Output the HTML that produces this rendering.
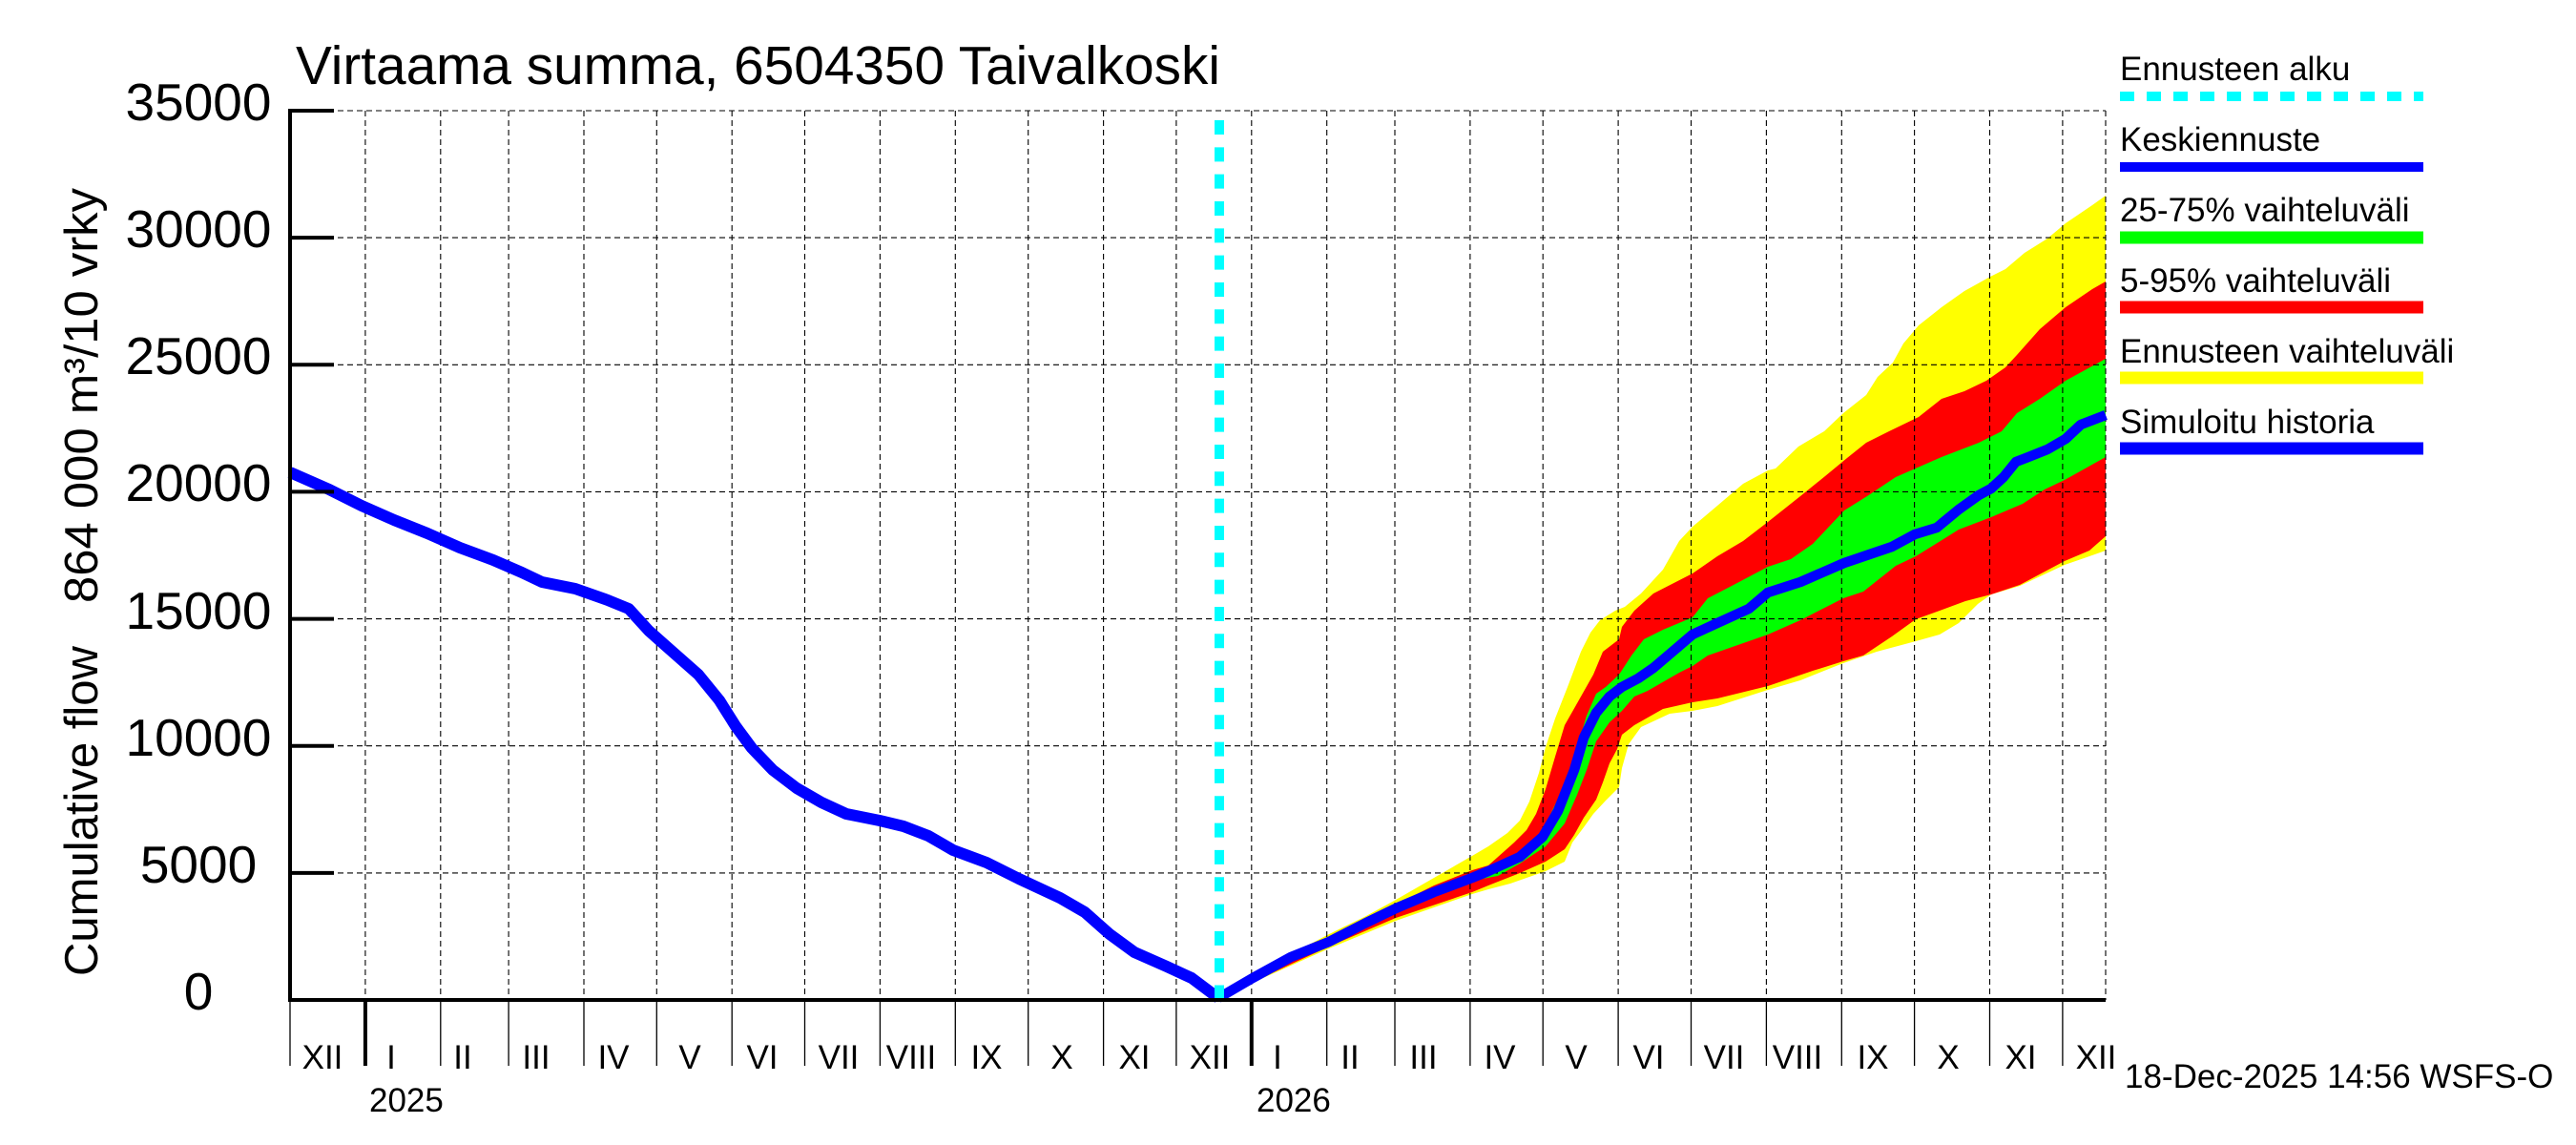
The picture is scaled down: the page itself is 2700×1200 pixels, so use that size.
<!DOCTYPE html>
<html><head><meta charset="utf-8"><style>
html,body{margin:0;padding:0;background:#fff;}
svg{display:block;font-family:"Liberation Sans",Arial,sans-serif;}
</style></head><body>
<svg xmlns="http://www.w3.org/2000/svg" width="2700" height="1200" viewBox="0 0 2700 1200">
<rect width="2700" height="1200" fill="#fff"/>

<!-- yellow band (min-max) -->
<polygon fill="#ffff00" points="1277,1046 1313,1022 1353,1000 1393,979 1430,961 1463,943 1503,920 1543,897 1560,887 1580,873 1593,860 1603,840 1613,810 1620,783 1630,753 1643,720 1657,683 1667,663 1677,650 1693,640 1703,636 1720,622 1743,597 1760,567 1774,552 1800,530 1827,507 1853,493 1861,491 1885,468 1912,452 1932,433 1956,414 1968,395 1984,380 1995,360 2011,341 2035,322 2059,305 2086,290 2102,282 2122,265 2146,250 2165,234 2193,215 2207,205 2207,577 2190,583 2164,592 2117,614 2087,623 2073,633 2053,653 2033,665 2008,672 1967,683 1932,695 1887,713 1853,723 1800,740 1774,745 1750,748 1720,762 1707,780 1700,805 1697,825 1683,839 1670,853 1660,867 1648,883 1640,903 1620,913 1583,926 1560,932 1543,937 1463,965 1393,994 1277,1046"/>

<!-- red band (5-95%) -->
<polygon fill="#ff0000" points="1277,1046 1393,984 1463,948 1503,928 1543,912 1560,907 1587,883 1600,870 1610,853 1620,827 1630,793 1640,760 1657,730 1670,707 1680,683 1697,670 1700,657 1713,640 1733,622 1774,601 1800,583 1827,567 1853,547 1887,520 1913,499 1936,480 1956,464 1980,452 2011,437 2035,418 2059,410 2082,399 2102,385 2114,372 2138,345 2165,322 2193,303 2207,295 2207,562 2190,577 2164,588 2117,613 2087,623 2060,630 2033,640 2008,649 1983,667 1953,687 1932,693 1900,703 1853,719 1800,732 1774,736 1743,743 1713,760 1700,770 1695,785 1687,800 1680,820 1673,838 1660,857 1650,875 1640,890 1620,903 1593,915 1560,928 1543,935 1463,962 1393,992 1277,1046"/>

<!-- green band (25-75%) -->
<polygon fill="#00ff00" points="1277,1046 1463,950 1543,917 1570,906 1593,893 1617,870 1633,837 1650,793 1663,750 1673,727 1683,720 1697,707 1710,687 1723,670 1743,660 1774,647 1790,627 1817,613 1853,594 1877,586 1900,570 1933,535 1957,520 1987,500 2035,479 2074,464 2098,452 2114,433 2138,418 2165,399 2207,376 2207,479 2164,503 2143,513 2120,528 2087,542 2053,555 2008,583 1987,593 1953,620 1932,627 1887,650 1853,665 1790,687 1774,698 1760,705 1727,724 1713,730 1700,745 1687,757 1673,777 1663,807 1653,833 1640,863 1620,887 1593,905 1570,918 1543,923 1463,954 1277,1046"/>

<!-- grid -->
<g stroke="#000" stroke-width="1.1" stroke-dasharray="6 4" fill="none">
<line x1="304" y1="116" x2="2207" y2="116"/>
<line x1="304" y1="249.1" x2="2207" y2="249.1"/>
<line x1="304" y1="382.3" x2="2207" y2="382.3"/>
<line x1="304" y1="515.4" x2="2207" y2="515.4"/>
<line x1="304" y1="648.6" x2="2207" y2="648.6"/>
<line x1="304" y1="781.7" x2="2207" y2="781.7"/>
<line x1="304" y1="914.9" x2="2207" y2="914.9"/>
<line x1="382.9" y1="116" x2="382.9" y2="1048"/>
<line x1="461.8" y1="116" x2="461.8" y2="1048"/>
<line x1="533.1" y1="116" x2="533.1" y2="1048"/>
<line x1="612" y1="116" x2="612" y2="1048"/>
<line x1="688.3" y1="116" x2="688.3" y2="1048"/>
<line x1="767.2" y1="116" x2="767.2" y2="1048"/>
<line x1="843.5" y1="116" x2="843.5" y2="1048"/>
<line x1="922.4" y1="116" x2="922.4" y2="1048"/>
<line x1="1001.3" y1="116" x2="1001.3" y2="1048"/>
<line x1="1077.7" y1="116" x2="1077.7" y2="1048"/>
<line x1="1156.6" y1="116" x2="1156.6" y2="1048"/>
<line x1="1232.9" y1="116" x2="1232.9" y2="1048"/>
<line x1="1311.8" y1="116" x2="1311.8" y2="1048"/>
<line x1="1390.7" y1="116" x2="1390.7" y2="1048"/>
<line x1="1462" y1="116" x2="1462" y2="1048"/>
<line x1="1540.9" y1="116" x2="1540.9" y2="1048"/>
<line x1="1617.2" y1="116" x2="1617.2" y2="1048"/>
<line x1="1696.1" y1="116" x2="1696.1" y2="1048"/>
<line x1="1772.5" y1="116" x2="1772.5" y2="1048"/>
<line x1="1851.4" y1="116" x2="1851.4" y2="1048"/>
<line x1="1930.3" y1="116" x2="1930.3" y2="1048"/>
<line x1="2006.6" y1="116" x2="2006.6" y2="1048"/>
<line x1="2085.5" y1="116" x2="2085.5" y2="1048"/>
<line x1="2161.9" y1="116" x2="2161.9" y2="1048"/>
<line x1="2207" y1="116" x2="2207" y2="1048"/>
</g>

<!-- simulated history -->
<polyline fill="none" stroke="#0000ff" stroke-width="12" stroke-linejoin="round" stroke-linecap="butt" points="304,495 345,513 379,530 413,545 448,559 482,574 517,587 547,600 568,610 603,617 637,629 659,638 680,661 698,677 732,707 754,734 771,761 788,784 810,807 835,826 861,841 887,853 922,860 947,866 973,876 999,891 1034,904 1068,921 1111,941 1137,956 1163,979 1189,998 1223,1013 1249,1025 1277,1046"/>

<!-- median forecast -->
<polyline fill="none" stroke="#0000ff" stroke-width="10.5" stroke-linejoin="round" stroke-linecap="butt" points="1277,1046 1313,1025 1353,1003 1393,987 1430,968 1463,952 1503,935 1543,920 1560,913 1593,898 1617,877 1633,850 1650,807 1660,773 1673,747 1687,730 1700,720 1717,711 1733,700 1760,677 1774,665 1800,653 1833,638 1853,621 1887,610 1933,590 1983,573 2007,560 2030,553 2053,534 2074,519 2087,512 2100,500 2113,484 2126,479 2146,471 2165,460 2181,445 2207,435"/>

<!-- forecast start -->
<line x1="1278" y1="126" x2="1278" y2="1048" stroke="#00ffff" stroke-width="10" stroke-dasharray="15 13.33"/>

<!-- axes -->
<g stroke="#000" fill="none">
<line x1="304" y1="114" x2="304" y2="1050" stroke-width="4"/>
<line x1="302" y1="1048" x2="2207" y2="1048" stroke-width="4"/>
<g stroke-width="4">
<line x1="304" y1="116" x2="350" y2="116"/>
<line x1="304" y1="249.1" x2="350" y2="249.1"/>
<line x1="304" y1="382.3" x2="350" y2="382.3"/>
<line x1="304" y1="515.4" x2="350" y2="515.4"/>
<line x1="304" y1="648.6" x2="350" y2="648.6"/>
<line x1="304" y1="781.7" x2="350" y2="781.7"/>
<line x1="304" y1="914.9" x2="350" y2="914.9"/>
<line x1="382.9" y1="1048" x2="382.9" y2="1117"/>
<line x1="1311.8" y1="1048" x2="1311.8" y2="1117"/>
</g>
<g stroke-width="1.3">
<line x1="304" y1="1048" x2="304" y2="1117"/>
<line x1="461.8" y1="1048" x2="461.8" y2="1117"/>
<line x1="533.1" y1="1048" x2="533.1" y2="1117"/>
<line x1="612" y1="1048" x2="612" y2="1117"/>
<line x1="688.3" y1="1048" x2="688.3" y2="1117"/>
<line x1="767.2" y1="1048" x2="767.2" y2="1117"/>
<line x1="843.5" y1="1048" x2="843.5" y2="1117"/>
<line x1="922.4" y1="1048" x2="922.4" y2="1117"/>
<line x1="1001.3" y1="1048" x2="1001.3" y2="1117"/>
<line x1="1077.7" y1="1048" x2="1077.7" y2="1117"/>
<line x1="1156.6" y1="1048" x2="1156.6" y2="1117"/>
<line x1="1232.9" y1="1048" x2="1232.9" y2="1117"/>
<line x1="1390.7" y1="1048" x2="1390.7" y2="1117"/>
<line x1="1462" y1="1048" x2="1462" y2="1117"/>
<line x1="1540.9" y1="1048" x2="1540.9" y2="1117"/>
<line x1="1617.2" y1="1048" x2="1617.2" y2="1117"/>
<line x1="1696.1" y1="1048" x2="1696.1" y2="1117"/>
<line x1="1772.5" y1="1048" x2="1772.5" y2="1117"/>
<line x1="1851.4" y1="1048" x2="1851.4" y2="1117"/>
<line x1="1930.3" y1="1048" x2="1930.3" y2="1117"/>
<line x1="2006.6" y1="1048" x2="2006.6" y2="1117"/>
<line x1="2085.5" y1="1048" x2="2085.5" y2="1117"/>
<line x1="2161.9" y1="1048" x2="2161.9" y2="1117"/>
</g>
</g>

<!-- title -->
<text x="310" y="88" font-size="57" textLength="969" lengthAdjust="spacingAndGlyphs" fill="#000">Virtaama summa, 6504350 Taivalkoski</text>

<!-- y tick labels -->
<g font-size="55" text-anchor="middle" fill="#000">
<text x="208" y="126">35000</text>
<text x="208" y="259">30000</text>
<text x="208" y="392">25000</text>
<text x="208" y="525">20000</text>
<text x="208" y="659">15000</text>
<text x="208" y="792">10000</text>
<text x="208" y="925">5000</text>
<text x="208" y="1058">0</text>
</g>

<!-- y axis title -->
<g font-size="49" fill="#000">
<text transform="translate(102,1023) rotate(-90)">Cumulative flow</text>
<text transform="translate(102,632) rotate(-90)" textLength="435" lengthAdjust="spacingAndGlyphs">864 000 m³/10 vrky</text>
</g>

<!-- month labels -->
<g font-size="35" text-anchor="middle" fill="#000">
<text x="338" y="1120">XII</text>
<text x="410" y="1120">I</text>
<text x="485" y="1120">II</text>
<text x="562" y="1120">III</text>
<text x="643" y="1120">IV</text>
<text x="723" y="1120">V</text>
<text x="799" y="1120">VI</text>
<text x="879" y="1120">VII</text>
<text x="955" y="1120">VIII</text>
<text x="1034" y="1120">IX</text>
<text x="1113" y="1120">X</text>
<text x="1189" y="1120">XI</text>
<text x="1268" y="1120">XII</text>
<text x="1339" y="1120">I</text>
<text x="1415" y="1120">II</text>
<text x="1492" y="1120">III</text>
<text x="1572" y="1120">IV</text>
<text x="1652" y="1120">V</text>
<text x="1728" y="1120">VI</text>
<text x="1807" y="1120">VII</text>
<text x="1884" y="1120">VIII</text>
<text x="1963" y="1120">IX</text>
<text x="2042" y="1120">X</text>
<text x="2118" y="1120">XI</text>
<text x="2197" y="1120">XII</text>
</g>
<g font-size="35" fill="#000">
<text x="387" y="1165">2025</text>
<text x="1317" y="1165">2026</text>
<text x="2227" y="1140">18-Dec-2025 14:56 WSFS-O</text>
</g>

<!-- legend -->
<g font-size="35" fill="#000">
<text x="2222" y="84">Ennusteen alku</text>
<text x="2222" y="158">Keskiennuste</text>
<text x="2222" y="232">25-75% vaihteluväli</text>
<text x="2222" y="306">5-95% vaihteluväli</text>
<text x="2222" y="380">Ennusteen vaihteluväli</text>
<text x="2222" y="454">Simuloitu historia</text>
</g>
<line x1="2222" y1="101" x2="2540" y2="101" stroke="#00ffff" stroke-width="10" stroke-dasharray="15 13"/>
<line x1="2222" y1="175" x2="2540" y2="175" stroke="#0000ff" stroke-width="10"/>
<line x1="2222" y1="249" x2="2540" y2="249" stroke="#00ff00" stroke-width="13"/>
<line x1="2222" y1="322" x2="2540" y2="322" stroke="#ff0000" stroke-width="13"/>
<line x1="2222" y1="396" x2="2540" y2="396" stroke="#ffff00" stroke-width="13"/>
<line x1="2222" y1="470" x2="2540" y2="470" stroke="#0000ff" stroke-width="13"/>
</svg>
</body></html>
